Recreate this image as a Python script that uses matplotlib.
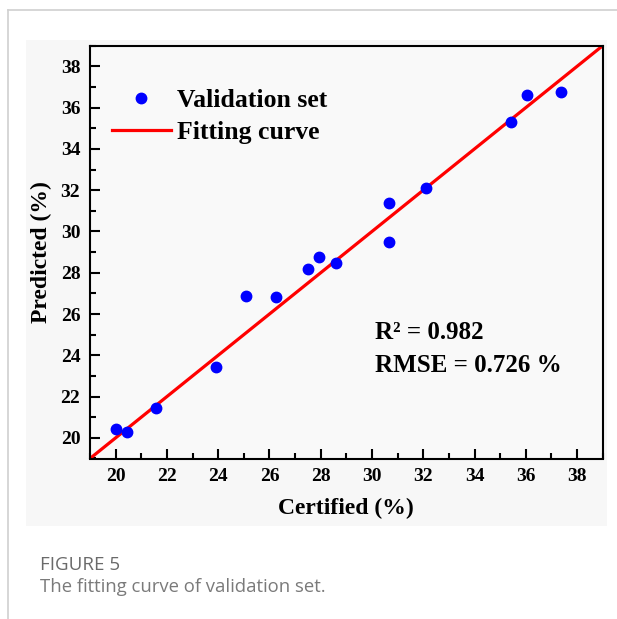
import matplotlib
matplotlib.use("Agg")
import matplotlib.pyplot as plt
from matplotlib.patches import Rectangle
from matplotlib.lines import Line2D
from matplotlib.ticker import MultipleLocator

certified = [20.0, 20.46, 21.59, 23.9, 25.07, 26.25, 27.49, 27.95, 28.58,
             30.66, 30.68, 32.1, 35.43, 36.04, 37.39]
predicted = [20.44, 20.27, 21.45, 23.41, 26.87, 26.82, 28.2, 28.77, 28.46,
             29.49, 31.36, 32.09, 35.3, 36.6, 36.76]
fit_x = [19, 39]
fit_y = [19, 39]
ticks = [20, 22, 24, 26, 28, 30, 32, 34, 36, 38]

W, H = 617, 619
fig = plt.figure(figsize=(W / 100, H / 100), dpi=100)
fig.patch.set_facecolor("white")

def px(x, y, w, h):
    return (x / W, 1 - (y + h) / H, w / W, h / H)

# page frame lines
fig.add_artist(Line2D([8 / W, 1], [1 - 10 / H, 1 - 10 / H], color="#d0d0d0", lw=1.2))
fig.add_artist(Line2D([8 / W, 8 / W], [0, 1 - 10 / H], color="#d0d0d0", lw=1.2))
# image background
x0, y0, w0, h0 = px(26, 40, 581, 486)
fig.add_artist(Rectangle((x0, y0), w0, h0, transform=fig.transFigure,
                         facecolor="#f7f7f7", edgecolor="none", zorder=0))

serif = "Liberation Serif"
ax = fig.add_axes([90 / W, 1 - 458.5 / H, (602.7 - 90) / W, (458.5 - 45.7) / H])
ax.set_facecolor("#f9f9f9")
ax.plot(fit_x, fit_y, color="#ff0000", lw=2.3, zorder=2, label="Fitting curve")
ax.plot(certified, predicted, "o", color="#0000ff", ms=7.5, zorder=3,
        label="Validation set")
ax.set_xlim(19, 39)
ax.set_ylim(19, 39)
ax.set_xticks(ticks)
ax.set_yticks(ticks)
ax.xaxis.set_minor_locator(MultipleLocator(1))
ax.yaxis.set_minor_locator(MultipleLocator(1))
ax.tick_params(which="both", direction="in", width=1.5, top=False, right=False)
ax.tick_params(which="major", length=7, labelsize=14, pad=7)
ax.tick_params(which="minor", length=4)
for lab in ax.get_xticklabels() + ax.get_yticklabels():
    lab.set_fontfamily(serif)
    lab.set_fontweight("bold")
for s in ax.spines.values():
    s.set_linewidth(1.5)

ax.set_xlabel("Certified (%)", fontfamily=serif, fontweight="bold", fontsize=17, labelpad=9)
ax.set_ylabel("Predicted (%)", fontfamily=serif, fontweight="bold", fontsize=17, labelpad=6)

h = ax.get_legend_handles_labels()
handles = [h[0][1], h[0][0]]
labels = [h[1][1], h[1][0]]
ax.legend(handles, labels, loc="upper left", bbox_to_anchor=(-0.003, 0.95),
          frameon=False, prop={"family": serif, "weight": "bold", "size": 18.5},
          handlelength=2.3, handletextpad=0.25, labelspacing=0.33, numpoints=1)

ax.text(375 / W, 1 - 333 / H, "R² = 0.982", transform=fig.transFigure,
        fontfamily=serif, fontweight="bold", fontsize=18, va="center", ha="left")
ax.text(375 / W, 1 - 366 / H, "RMSE = 0.726 %", transform=fig.transFigure,
        fontfamily=serif, fontweight="bold", fontsize=18, va="center", ha="left")

fig.text(40 / W, 1 - 565 / H, "FIGURE 5", fontfamily="Open Sans", fontsize=13.5,
         fontweight="medium", color="#6a6a6a", va="center", ha="left")
fig.text(40 / W, 1 - 587 / H, "The fitting curve of validation set.", fontfamily="Open Sans",
         fontsize=13.3, color="#7a7a7a", va="center", ha="left")

fig.savefig("out.png", dpi=100)
